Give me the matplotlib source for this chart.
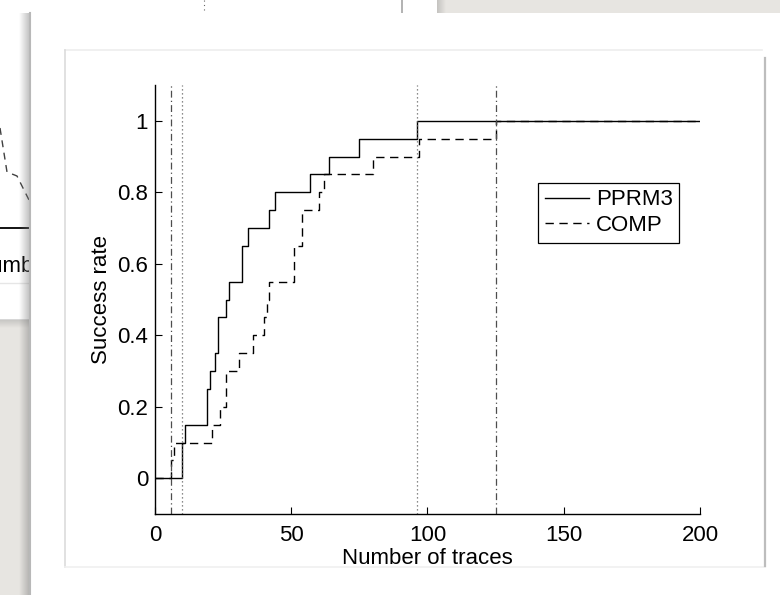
import numpy as np
import matplotlib.pyplot as plt
from matplotlib.patches import Rectangle

plt.rcParams['font.family'] = ['Liberation Sans', 'DejaVu Sans']

# success rate against number of traces, one step per successful attack
pprm3_traces = [0, 10, 11, 19, 20, 22, 23, 26, 27, 32, 34, 42, 44, 57, 64, 75, 96, 200]
pprm3_rate = [0, 0.10, 0.15, 0.25, 0.30, 0.35, 0.45, 0.50, 0.55, 0.65, 0.70,
              0.75, 0.80, 0.85, 0.90, 0.95, 1.00, 1.00]
comp_traces = [0, 6, 7, 21, 24, 26, 31, 36, 40, 41, 42, 51, 54, 60, 62, 80, 97, 125, 200]
comp_rate = [0, 0.05, 0.10, 0.15, 0.20, 0.30, 0.35, 0.40, 0.45, 0.50, 0.55,
             0.65, 0.75, 0.80, 0.85, 0.90, 0.95, 1.00, 1.00]

# first success and full success
pprm3_marks = [10, 96]
comp_marks = [6, 125]

xticks = [0, 50, 100, 150, 200]
yticks = [0, 0.2, 0.4, 0.6, 0.8, 1]
ytick_labels = ['0', '0.2', '0.4', '0.6', '0.8', '1']

FS = 16
W, H = 780, 595
fig = plt.figure(figsize=(W / 100, H / 100), dpi=100, facecolor='#e7e5e1')

# desktop layer in pixel units
bg = fig.add_axes([0, 0, 1, 1])
bg.set_xlim(0, W)
bg.set_ylim(H, 0)
bg.axis('off')


def shade(x0, x1, y0, y1, vertical=False, dark=0.55, z=1):
    g = np.linspace(0, 1, 64)
    a = g[:, None] if vertical else g[None, :]
    rgba = np.zeros(a.shape + (4,))
    rgba[..., :3] = 0.45
    rgba[..., 3] = a * dark
    bg.imshow(rgba, extent=(x0, x1, y1, y0), aspect='auto', zorder=z,
              interpolation='bilinear')


# window in the back
bg.add_patch(Rectangle((0, 0), 437, 320, facecolor='white', edgecolor='none', zorder=1))
shade(446, 437, 0, 13, dark=0.3)
shade(0, 437, 328, 319, vertical=True, dark=0.3)
bg.plot([402, 402], [0, 13], color='0.65', lw=1.2, zorder=2)
bg.plot([204, 204], [0, 11], color='0.4', lw=0.8, ls=(0, (1, 3)), zorder=2)
bg.plot([0, 7, 17, 30], [128, 172, 176, 202], color='0.25', lw=1.0, ls=(0, (5, 4)), zorder=2)
bg.plot([0, 30], [228, 228], color='k', lw=1.3, zorder=2)
bg.plot([0, 30], [283, 283], color='0.9', lw=1.0, zorder=2)
bg.text(34, 266, 'Numb', fontsize=FS, ha='right', va='center', zorder=2)

# front window
bg.add_patch(Rectangle((30, 13), W - 30, H - 13, facecolor='white', edgecolor='none', zorder=3))
shade(19, 30, 13, H, dark=0.45, z=3)
bg.plot([30, 30], [13, H], color='0.72', lw=1.5, zorder=4)

# figure panel
bg.plot([65, 762], [50, 50], color='0.93', lw=1.2, zorder=4)
bg.plot([65, 65], [50, 567], color='0.86', lw=1.2, zorder=4)
bg.plot([65, 765], [567, 567], color='0.94', lw=1.2, zorder=4)
bg.plot([765, 765], [58, 566], color='0.74', lw=1.6, zorder=4)

ax = fig.add_axes([155 / W, (H - 514) / H, 545 / W, 429 / H])
ax.patch.set_visible(False)

ax.step(pprm3_traces, pprm3_rate, where='post', color='k', lw=1.0, label='PPRM3')
ax.step(comp_traces, comp_rate, where='post', color='k', lw=1.0,
        ls=(0, (6, 4)), label='COMP')
for x in pprm3_marks:
    ax.axvline(x, color='0.4', lw=0.9, ls=(0, (1, 2.2)))
for x in comp_marks:
    ax.axvline(x, color='0.3', lw=0.9, ls=(0, (5.5, 2.5, 1, 2.5)))

ax.set_xlim(0, 200)
ax.set_ylim(-0.1, 1.1)
ax.set_xticks(xticks)
ax.set_yticks(yticks)
ax.set_yticklabels(ytick_labels)
ax.tick_params(direction='in', length=5, width=0.8, labelsize=FS, color='k')
ax.tick_params(axis='x', pad=8)
ax.tick_params(axis='y', pad=5)
for s in ['top', 'right']:
    ax.spines[s].set_visible(False)
for s in ['left', 'bottom']:
    ax.spines[s].set_linewidth(1.0)

ax.set_xlabel('Number of traces', fontsize=FS, labelpad=1)
ax.set_ylabel('Success rate', fontsize=FS, labelpad=4)

leg = ax.legend(loc='upper left', bbox_to_anchor=(0.703, 0.772), frameon=True,
                fancybox=False, edgecolor='k', framealpha=1, fontsize=FS,
                handlelength=2.0, handletextpad=0.3, borderpad=0.3,
                labelspacing=0.2, borderaxespad=0)
leg.get_frame().set_linewidth(0.9)

fig.savefig('out.png', dpi=100, facecolor=fig.get_facecolor())
